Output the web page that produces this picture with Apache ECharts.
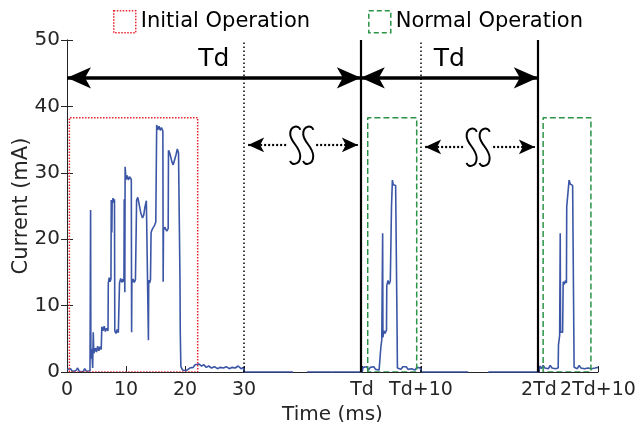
<!DOCTYPE html>
<html><head><meta charset="utf-8">
<script src="https://cdn.jsdelivr.net/npm/echarts@6/dist/echarts.min.js"></script>
<style>html,body{margin:0;padding:0;background:#fff}#c{width:642px;height:422px}</style>
</head><body><div id="c"></div>
<script>
// ---- data (time in ms on a compressed axis where Td is drawn at 50) ----
const xTickValues = [0, 10, 20, 30, 50, 60, 80, 90];
const xTickLabels = ['0', '10', '20', '30', 'Td', 'Td+10', '2Td', '2Td+10'];
const yTickValues = [0, 10, 20, 30, 40, 50];

const initialTrace = [[0,0.4],[0.3,0.2],[0.6,0.5],[0.9,0.1],[1.2,0.4],[1.5,0.2],[1.8,0.6],[2.1,0.1],[2.4,0.4],[2.7,0.0],[3.0,0.5],[3.3,0.1],[3.6,0.3],[3.9,0.2],
[4.0,24.4],[4.05,2.0],[4.2,3.5],[4.35,0.6],[4.45,6.0],[4.55,2.8],[4.8,3.6],[5.0,3.0],[5.2,3.9],[5.4,3.2],[5.6,3.8],[5.8,3.4],
[5.9,6.8],[6.1,6.2],[6.3,6.9],[6.5,6.1],[6.7,6.6],[6.95,6.2],
[7.0,13.4],[7.15,14.2],[7.3,13.6],[7.45,14.0],[7.5,25.9],[7.6,21.0],[7.65,25.4],[7.8,26.2],[7.95,25.5],[8.05,26.0],
[8.1,6.2],[8.3,5.8],[8.5,6.4],[8.7,5.9],[8.85,6.2],
[8.9,13.4],[9.1,14.1],[9.3,13.5],[9.5,14.0],[9.65,13.6],
[9.7,26.0],[9.8,12.0],[9.85,30.9],[10.0,29.0],[10.2,29.6],[10.4,28.9],[10.6,29.4],[10.9,29.0],
[10.95,6.0],[11.0,13.4],[11.2,14.0],[11.4,13.5],[11.6,13.9],[11.75,13.6],
[11.8,25.9],[12.0,26.3],[12.2,25.4],[12.5,24.0],[12.8,23.2],[13.0,23.6],[13.2,24.8],[13.45,25.8],[13.7,25.5],
[13.8,4.8],[13.85,13.8],[14.0,13.4],[14.15,13.9],
[14.25,21.0],[14.5,21.6],[14.8,22.0],[15.05,22.6],
[15.2,37.2],[15.4,36.5],[15.6,37.0],[15.8,36.4],[16.0,36.8],[16.25,36.3],
[16.3,13.6],[16.35,21.4],[16.6,21.8],[16.9,21.2],[17.15,21.6],
[17.2,33.4],[17.4,33.0],[17.6,33.3],[17.8,31.6],[18.0,31.2],[18.2,31.5],[18.5,32.8],[18.7,33.6],[18.9,33.0],[19.1,33.2],
[19.15,13.9],[19.2,5.9],[19.3,0.8],[19.6,0.3],[19.9,0.6],[20.2,0.2],[20.5,0.5],[20.8,0.6],[21.1,0.9],[21.4,0.7],[21.7,1.1],[22.0,0.8],[22.4,1.2],[22.8,0.9],[23.2,1.1],[23.6,0.7],[24.0,0.9],[24.5,0.6],[25.0,0.8],[25.5,0.5],[26.0,0.7],[26.5,0.6],[27.0,0.8],[27.5,0.5],[28.0,0.7],[28.5,0.6],[29.0,0.9],[29.5,0.5],[29.9,0.7],[30.0,0.0]];
const idleTrace1 = [[30.0,0],[38.3,0],[39.5,'-'],[40.7,0],[50.0,0]];
const normalTrace1 = [[50.0,0],[50.2,0.7],[50.5,0.4],[50.8,0.8],[51.1,0.3],[51.4,0.7],[51.7,0.4],[52.0,0.8],[52.3,0.4],[52.6,0.7],[52.9,0.3],[53.15,0.6],
[53.2,3.8],[53.35,4.8],[53.5,20.9],[53.55,5.2],[53.7,6.2],[53.9,5.8],[54.15,6.3],
[54.2,13.0],[54.4,13.8],[54.6,13.2],[54.8,13.7],[54.95,13.4],
[55.0,24.9],[55.15,28.9],[55.3,28.2],[55.5,28.5],[55.7,28.1],[55.9,28.4],
[55.95,6.1],[56.0,0.6],[56.3,0.9],[56.6,0.4],[56.9,0.8],[57.2,0.5],[57.5,0.8],[57.8,0.4],[58.1,0.7],[58.4,0.5],[58.7,0.8],[59.0,0.3],[59.3,0.7],[59.6,0.4],[59.9,0.6],[60.0,0.0]];
const idleTrace2 = [[60.0,0],[68.0,0],[69.7,'-'],[71.4,0],[80.0,0]];
const normalTrace2 = [[80.0,0],[80.1,0.9],[80.4,0.5],[80.7,1.0],[81.0,0.6],[81.3,0.9],[81.6,0.5],[81.9,1.0],[82.2,0.6],[82.5,0.9],[82.8,0.5],[83.1,0.8],[83.25,0.6],
[83.3,4.1],[83.5,5.5],[83.6,20.9],[83.65,6.0],[83.8,6.3],[84.0,6.0],
[84.1,13.6],[84.3,13.2],[84.5,13.8],[84.65,13.4],
[84.7,24.9],[85.1,28.9],[85.3,28.3],[85.5,28.6],[85.7,28.1],[85.85,28.4],
[85.9,6.3],[85.95,0.7],[86.2,0.9],[86.5,0.5],[86.8,1.0],[87.1,0.6],[87.4,0.9],[87.7,0.5],[88.0,0.8],[88.3,0.6],[88.6,0.9],[88.9,0.5],[89.2,0.8],[89.5,0.6],[89.8,0.9],[90.0,0.7]];

// boxes
const initialBoxX = [0.4, 22.15];
const normalBoxesX = [[50.97, 59.27], [80.7, 88.8]];
const boxTop = 38.3;

// annotations (data coordinates)
const axisSegments = [[0, 30], [50, 60], [80, 90]];
const dottedMarkers = [30, 60];
const solidMarkers = [49.8, 79.8];
const tdArrows = [[0, 49.8], [49.8, 79.8]];
const tdArrowY = 44.3;
const gapArrows = [[30.7, 49.3, 34.2], [60.7, 79.3, 33.9]];
const gapSymbols = [[39.7, 34.2], [69.6, 33.9]];

// ---- build ----
const FONT = 'DejaVu Sans';
const TXT = '#262626';
const trace = initialTrace.concat(idleTrace1.slice(1), normalTrace1.slice(1), idleTrace2.slice(1), normalTrace2.slice(1));

function rect(x0, x1, top) { return [[x0,0],[x0,top],[x1,top],[x1,0],[x0,0]]; }
const initBoxData = rect(initialBoxX[0], initialBoxX[1], boxTop);
let normBoxData = [];
normalBoxesX.forEach((b, i) => { if (i) normBoxData.push([b[0], '-']); normBoxData = normBoxData.concat(rect(b[0], b[1], boxTop)); });

const labelMap = {};
xTickValues.forEach((v, i) => labelMap[v] = xTickLabels[i]);

const markLines = [];
axisSegments.forEach(s => markLines.push([{coord:[s[0],0], lineStyle:{color:TXT,width:1.2,type:'solid'}, symbol:'none'},{coord:[s[1],0], symbol:'none'}]));
dottedMarkers.forEach(x => markLines.push([{coord:[x,0], lineStyle:{color:'#000',width:1.5,type:[1.5,2.5]}, symbol:'none'},{coord:[x,50], symbol:'none'}]));
solidMarkers.forEach(x => markLines.push([{coord:[x,0], lineStyle:{color:'#000',width:2.2,type:'solid'}, symbol:'none'},{coord:[x,50], symbol:'none'}]));
tdArrows.forEach(a => markLines.push([{coord:[a[0],tdArrowY], lineStyle:{color:'#000',width:3.5,type:'solid'}, symbol:'arrow', symbolSize:[16,24],
  label:{show:true, formatter:'Td', position:'insideMiddleTop', distance:6, fontFamily:FONT, fontSize:25, color:'#000'}},{coord:[a[1],tdArrowY], symbol:'arrow', symbolSize:[16,24]}]));
gapArrows.forEach(a => markLines.push([{coord:[a[0],a[2]], lineStyle:{color:'#000',width:2.2,type:[2,2]}, symbol:'arrow', symbolSize:[11,16]},{coord:[a[1],a[2]], symbol:'arrow', symbolSize:[11,16]}]));

const chart = echarts.init(document.getElementById('c'), null, {renderer:'canvas'});
chart.setOption({
  animation:false,
  backgroundColor:'#fff',
  textStyle:{fontFamily:FONT},
  grid:{left:67, right:44, top:40, bottom:50, containLabel:false, outerBoundsMode:'none'},
  legend:{
    top:5, left:108, itemWidth:22, itemHeight:22, itemGap:58, icon:'rect',
    textStyle:{fontFamily:FONT, fontSize:21, color:'#000'},
    data:[
      {name:'Initial Operation', itemStyle:{color:'rgba(0,0,0,0)', borderColor:'#e8232b', borderWidth:1.5, borderType:[1.5,1.5]}},
      {name:'Normal Operation', itemStyle:{color:'rgba(0,0,0,0)', borderColor:'#2a9446', borderWidth:1.5, borderType:[5,3]}}
    ]
  },
  xAxis:[{
    type:'value', min:0, max:90, interval:10, position:'bottom',
    axisLine:{show:false},
    axisTick:{show:true, inside:true, length:6, customValues:xTickValues, lineStyle:{color:TXT}},
    axisLabel:{customValues:xTickValues, formatter:v => labelMap[v] || '', fontFamily:FONT, fontSize:19, color:TXT, margin:9,
      showMinLabel:true, showMaxLabel:true, hideOverlap:false},
    splitLine:{show:false},
    name:'Time (ms)', nameLocation:'middle', nameGap:27, nameTextStyle:{fontFamily:FONT, fontSize:20, color:TXT}
  },{
    type:'value', min:0, max:90, position:'top',
    axisLine:{show:true, lineStyle:{color:TXT, width:1}}, axisTick:{show:false}, axisLabel:{show:false}, splitLine:{show:false}
  }],
  yAxis:[{
    type:'value', min:0, max:50, interval:10, position:'left',
    axisLine:{show:true, lineStyle:{color:TXT, width:1}},
    axisTick:{show:true, inside:true, length:6, lineStyle:{color:TXT}},
    axisLabel:{fontFamily:FONT, fontSize:20, color:TXT, margin:7},
    splitLine:{show:false},
    name:'Current (mA)', nameLocation:'middle', nameGap:35, nameMoveOverlap:false, nameTextStyle:{fontFamily:FONT, fontSize:21, color:TXT}
  },{
    type:'value', min:0, max:50, interval:10, position:'right',
    axisLine:{show:true, lineStyle:{color:TXT, width:1}},
    axisTick:{show:true, inside:true, length:6, lineStyle:{color:TXT}},
    axisLabel:{show:false}, splitLine:{show:false}
  }],
  series:[
    {type:'line', name:'annotations', data:[], silent:true, z:1, markLine:{silent:true, animation:false, data:markLines, label:{show:false}}},
    {type:'line', name:'trace', data:trace, showSymbol:false, symbol:'none', z:3, lineStyle:{color:'#3b56a6', width:1.6}, connectNulls:false},
    {type:'line', name:'Initial Operation', data:initBoxData, showSymbol:false, symbol:'none', z:4, lineStyle:{color:'#e8232b', width:1.5, type:[1.5,1.5]}},
    {type:'line', name:'Normal Operation', data:normBoxData, showSymbol:false, symbol:'none', z:4, connectNulls:false, lineStyle:{color:'#2a9446', width:1.5, type:[6,3]}}
  ]
});

// wavy "break" symbols on the gap arrows (local S shape, 13 x 40 px)
const sCurves = [
  {x1:12, y1:5, cpx1:11, cpy1:0, cpx2:2, cpy2:0, x2:2, y2:9},
  {x1:2, y1:9, cpx1:2, cpy1:17, cpx2:12, cpy2:22, x2:12, y2:31},
  {x1:12, y1:31, cpx1:12, cpy1:40, cpx2:3, cpy2:41, x2:2, y2:36}
];
const graphics = [];
gapSymbols.forEach(g => {
  const p = chart.convertToPixel({gridIndex:0}, g);
  graphics.push({type:'rect', shape:{x:p[0]-14, y:p[1]-4, width:28, height:8}, style:{fill:'#fff'}, z:100});
  [-13, 0].forEach(dx => {
    graphics.push({type:'group', x:p[0]+dx, y:p[1]-20, z:101, children: sCurves.map(c => ({
      type:'bezierCurve', shape:c, style:{fill:null, stroke:'#000', lineWidth:2}, z:101}))});
  });
});
chart.setOption({graphic:graphics});
</script></body></html>
